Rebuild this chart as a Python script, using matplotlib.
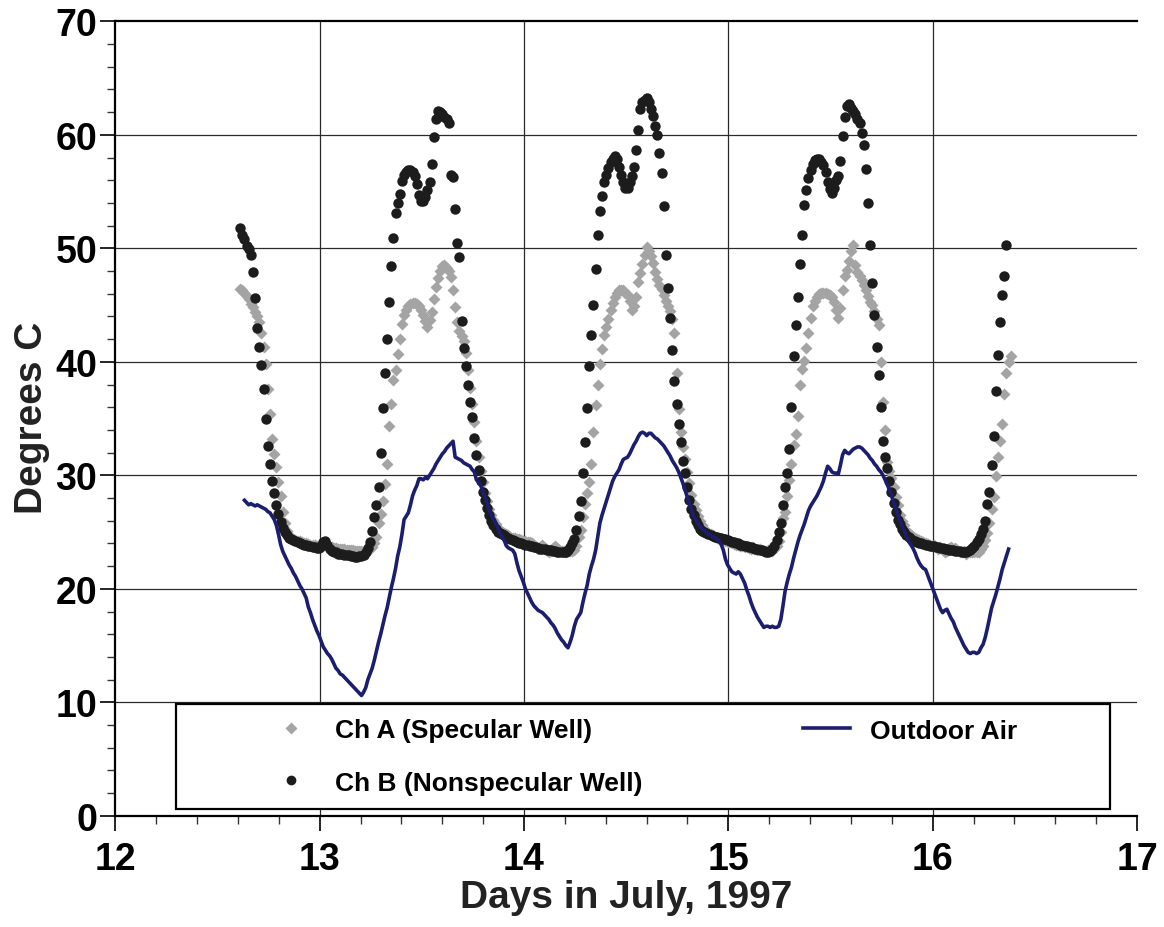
import numpy as np
import matplotlib
matplotlib.use("Agg")
import matplotlib.pyplot as plt
from matplotlib.lines import Line2D
from matplotlib.patches import Rectangle
from matplotlib.ticker import MultipleLocator

plt.rcParams['font.family'] = ['Liberation Sans', 'DejaVu Sans']
plt.rcParams['font.weight'] = 'bold'

# ---------------- data (15-minute samples) ----------------
STEP = 1.0 / 96.0
CHB_START = 12.611
CHA_START = 12.611
AIR_START = 12.632

ch_b = [
    51.8, 51.2, 50.8, 50.2, 49.9, 49.4, 47.9, 45.6, 43.0, 41.3,
    39.7, 37.6, 35.0, 32.6, 31.0, 29.5, 28.4, 27.4, 26.6, 25.9,
    25.4, 25.0, 24.7, 24.5, 24.4, 24.3, 24.2, 24.1, 24.0, 23.95,
    23.9, 23.85, 23.8, 23.75, 23.7, 23.65, 23.6, 23.6, 23.8, 24.1,
    24.2, 23.9, 23.5, 23.3, 23.2, 23.2, 23.1, 23.1, 23.05, 23.0,
    23.0, 22.95, 22.9, 22.85, 22.8, 22.8, 22.85, 22.9, 23.0, 23.2,
    23.6, 24.1, 25.1, 26.3, 27.4, 29.0, 32.0, 35.9, 39.0, 42.0,
    45.3, 48.4, 50.9, 53.1, 54.0, 54.8, 55.9, 56.5, 56.7, 56.9,
    56.9, 56.7, 56.4, 55.7, 54.7, 54.2, 54.2, 54.5, 55.1, 55.8,
    57.4, 59.8, 61.4, 62.1, 62.0, 61.8, 61.6, 61.4, 61.0, 56.5,
    56.3, 53.5, 50.5, 49.2, 43.6, 41.2, 39.6, 38.0, 36.5, 35.1,
    33.3, 31.8, 30.5, 29.5, 28.5, 27.8, 27.1, 26.5, 26.0, 25.6,
    25.3, 25.0, 24.9, 24.8, 24.7, 24.6, 24.5, 24.4, 24.3, 24.2,
    24.1, 24.05, 24.0, 23.95, 23.9, 23.85, 23.8, 23.75, 23.7, 23.65,
    23.6, 23.55, 23.5, 23.5, 23.45, 23.4, 23.4, 23.35, 23.3, 23.25,
    23.2, 23.2, 23.2, 23.25, 23.4, 23.7, 24.0, 24.4, 25.2, 26.4,
    27.7, 30.2, 32.9, 35.9, 39.6, 42.4, 45.0, 48.2, 51.2, 53.3,
    54.6, 55.8, 56.5, 57.1, 57.6, 57.9, 58.1, 57.9, 57.2, 56.5,
    55.8, 55.3, 55.3, 55.8, 56.4, 57.2, 58.7, 60.4, 62.3, 62.9,
    63.1, 63.2, 62.9, 62.3, 61.7, 60.8, 60.0, 58.4, 56.6, 53.7,
    49.4, 46.5, 43.9, 41.0, 38.3, 36.3, 34.5, 32.9, 31.3, 30.2,
    29.0, 27.8, 27.0, 26.5, 26.0, 25.6, 25.3, 25.1, 25.0, 24.9,
    24.8, 24.7, 24.65, 24.6, 24.55, 24.5, 24.45, 24.4, 24.35, 24.3,
    24.2, 24.15, 24.1, 24.05, 24.0, 23.9, 23.85, 23.8, 23.75, 23.7,
    23.65, 23.6, 23.55, 23.5, 23.45, 23.4, 23.3, 23.25, 23.2, 23.35,
    23.5, 23.8, 24.3, 25.0, 25.8, 27.4, 29.0, 30.2, 32.3, 36.0,
    40.5, 43.2, 45.7, 48.6, 51.2, 53.8, 55.1, 56.2, 56.9, 57.4,
    57.8, 57.9, 57.9, 57.6, 57.3, 56.7, 55.8, 55.2, 54.9, 55.3,
    56.0, 56.4, 57.7, 59.9, 61.6, 62.5, 62.7, 62.4, 62.1, 61.8,
    61.4, 61.0, 60.2, 59.1, 57.0, 54.0, 50.3, 46.9, 44.1, 41.3,
    38.8, 36.0, 33.0, 31.6, 30.6, 29.5, 28.5, 27.6, 26.8, 26.1,
    25.7, 25.3, 25.0, 24.7, 24.55, 24.4, 24.25, 24.2, 24.1, 24.05,
    24.0, 23.95, 23.9, 23.85, 23.8, 23.8, 23.75, 23.7, 23.65, 23.6,
    23.6, 23.55, 23.5, 23.45, 23.4, 23.4, 23.35, 23.3, 23.3, 23.25,
    23.2, 23.2, 23.3, 23.4, 23.6, 23.8, 24.1, 24.4, 24.8, 25.3,
    26.0, 27.5, 28.5, 30.9, 33.5, 37.4, 40.6, 43.5, 45.9, 47.6, 50.3,
]

ch_a = [
    46.4, 46.3, 46.1, 45.8, 45.5, 45.1, 44.8, 44.4, 44.0, 43.5,
    42.5, 41.3, 39.8, 37.6, 35.4, 33.2, 31.9, 30.7, 29.4, 28.2,
    26.8, 25.8, 25.1, 24.7, 24.5, 24.4, 24.3, 24.25, 24.2, 24.1,
    24.05, 24.0, 23.95, 23.9, 23.9, 23.85, 23.8, 23.8, 23.75, 23.8,
    23.9, 23.8, 23.7, 23.65, 23.6, 23.6, 23.55, 23.5, 23.5, 23.5,
    23.45, 23.45, 23.4, 23.4, 23.35, 23.35, 23.3, 23.3, 23.3, 23.35,
    23.4, 23.5, 23.7, 24.0, 24.6, 25.8, 26.6, 27.7, 29.2, 31.0,
    34.3, 36.3, 38.4, 39.3, 40.7, 42.0, 43.3, 44.1, 44.6, 44.9,
    45.1, 45.2, 45.2, 45.1, 44.9, 44.6, 44.1, 43.6, 43.1, 43.7,
    44.4, 45.5, 46.6, 47.4, 48.0, 48.4, 48.5, 48.3, 48.0, 47.5,
    46.3, 44.8, 43.5, 42.7, 42.3, 41.8, 40.8, 39.3, 37.7, 36.3,
    34.7, 33.0, 31.6, 30.4, 29.4, 28.4, 27.7, 27.0, 26.5, 26.1,
    25.7, 25.4, 25.2, 25.0, 24.9, 24.8, 24.7, 24.6, 24.5, 24.45,
    24.4, 24.35, 24.3, 24.25, 24.2, 24.15, 24.1, 24.0, 23.9, 23.7,
    23.5, 23.7, 23.9, 23.6, 23.4, 23.2, 23.3, 23.6, 23.8, 23.6,
    23.4, 23.3, 23.3, 23.2, 23.3, 23.3, 23.3, 23.4, 23.8, 24.6,
    25.2, 26.3, 27.5, 28.4, 29.4, 31.0, 33.8, 36.2, 38.0, 39.8,
    41.1, 42.4, 43.1, 43.8, 44.6, 45.2, 45.7, 46.1, 46.3, 46.3,
    46.3, 46.1, 45.9, 45.4, 44.6, 44.9, 45.7, 47.0, 47.8, 48.6,
    49.4, 50.1, 49.8, 49.3, 48.7, 47.9, 47.3, 46.8, 46.4, 45.9,
    45.4, 44.9, 44.5, 43.8, 42.5, 39.0, 35.8, 33.8, 32.5, 31.4,
    30.3, 29.3, 28.3, 27.5, 26.9, 26.4, 26.0, 25.6, 25.3, 25.1,
    24.9, 24.8, 24.7, 24.6, 24.5, 24.4, 24.35, 24.3, 24.2, 24.15,
    24.1, 24.0, 23.95, 23.9, 23.85, 23.8, 23.75, 23.7, 23.65, 23.6,
    23.55, 23.7, 23.5, 23.4, 23.5, 23.4, 23.3, 23.3, 23.4, 23.3,
    23.3, 23.5, 23.8, 24.2, 25.0, 26.2, 26.8, 28.2, 29.6, 31.0,
    32.7, 33.6, 35.2, 38.0, 39.4, 40.1, 41.2, 42.5, 43.9, 44.9,
    45.4, 45.7, 46.0, 46.1, 46.1, 46.1, 46.0, 45.9, 45.7, 45.3,
    44.6, 43.9, 44.7, 46.3, 47.6, 48.1, 48.9, 49.8, 50.3, 48.5,
    47.9, 47.6, 47.2, 46.8, 46.3, 45.8, 45.3, 45.0, 44.5, 43.8,
    43.2, 40.0, 36.5, 34.0, 31.2, 30.4, 29.8, 29.0, 28.1, 27.4,
    26.5, 26.0, 25.6, 25.1, 24.9, 24.7, 24.6, 24.5, 24.4, 24.3,
    24.2, 24.1, 24.0, 23.95, 23.9, 23.8, 23.9, 23.7, 23.5, 23.7,
    23.4, 23.2, 23.3, 23.6, 23.7, 23.5, 23.6, 23.4, 23.2, 23.2,
    23.3, 23.1, 23.2, 23.2, 23.2, 23.2, 23.2, 23.2, 23.5, 23.8,
    24.3, 24.9, 25.8, 27.0, 28.1, 29.9, 31.6, 33.0, 34.5, 37.2,
    39.0, 40.0, 40.5,
]

outdoor_air = [
    27.8, 27.6, 27.4, 27.5, 27.4, 27.3, 27.4, 27.3, 27.2, 27.1,
    27.0, 26.8, 26.7, 26.4, 26.1, 25.6, 24.8, 23.9, 23.3, 22.9,
    22.5, 22.1, 21.8, 21.4, 21.1, 20.7, 20.3, 20.0, 19.6, 19.2,
    18.4, 17.9, 17.3, 16.8, 16.3, 15.9, 15.4, 14.9, 14.6, 14.3,
    14.1, 13.8, 13.4, 13.0, 12.8, 12.5, 12.4, 12.2, 12.0, 11.8,
    11.6, 11.4, 11.2, 11.0, 10.8, 10.6, 10.9, 11.3, 12.0, 12.5,
    13.0, 13.7, 14.5, 15.3, 16.0, 16.8, 17.6, 18.3, 19.2, 20.1,
    20.9, 21.8, 22.9, 23.7, 24.8, 26.1, 26.4, 26.7, 27.4, 28.2,
    28.7, 29.1, 29.7, 29.7, 29.6, 29.8, 29.7, 30.0, 30.3, 30.6,
    31.0, 31.3, 31.6, 31.9, 32.1, 32.4, 32.6, 32.8, 33.0, 31.6,
    31.5, 31.4, 31.3, 31.1, 31.0, 30.9, 30.8, 30.5, 30.3, 29.6,
    29.4, 29.1, 28.6, 28.1, 27.5, 26.9, 26.5, 26.1, 25.8, 25.4,
    24.9, 24.6, 24.3, 23.8, 23.6, 23.5, 23.4, 23.1, 22.3, 21.6,
    21.1, 20.6, 20.0, 19.6, 19.2, 18.8, 18.5, 18.3, 18.1, 18.0,
    17.9, 17.7, 17.5, 17.3, 17.0, 16.8, 16.5, 16.1, 15.8, 15.5,
    15.3, 15.0, 14.8, 15.3, 15.9, 16.7, 17.3, 17.6, 17.9, 18.8,
    19.6, 20.3, 21.3, 22.0, 22.6, 23.4, 24.6, 25.8, 26.5, 27.1,
    27.7, 28.3, 28.9, 29.5, 29.9, 30.2, 30.5, 31.0, 31.4, 31.5,
    31.6, 31.9, 32.3, 32.7, 33.0, 33.4, 33.7, 33.8, 33.7, 33.5,
    33.7, 33.7, 33.5, 33.3, 33.2, 33.0, 32.8, 32.6, 32.3, 32.0,
    31.7, 31.3, 31.0, 30.7, 30.3, 29.8, 29.3, 28.7, 28.1, 27.5,
    27.0, 26.4, 26.1, 25.8, 25.5, 25.3, 25.1, 25.0, 24.8, 24.7,
    24.6, 24.5, 24.4, 24.2, 23.9, 23.4, 22.6, 22.1, 21.8, 21.5,
    21.4, 21.3, 21.5, 21.3, 20.9, 20.5, 19.9, 19.4, 18.8, 18.3,
    17.9, 17.5, 17.2, 16.9, 16.6, 16.7, 16.7, 16.6, 16.7, 16.6,
    16.6, 16.7, 17.3, 18.5, 19.8, 20.6, 21.3, 21.9, 22.7, 23.4,
    24.1, 24.7, 25.2, 25.7, 26.3, 26.9, 27.3, 27.6, 27.9, 28.2,
    28.6, 29.0, 29.5, 30.2, 30.8, 30.6, 30.3, 30.2, 30.2, 30.1,
    30.9, 31.8, 32.2, 32.0, 31.9, 32.1, 32.3, 32.4, 32.5, 32.5,
    32.4, 32.2, 32.0, 31.8, 31.5, 31.3, 31.0, 30.8, 30.5, 30.3,
    30.0, 29.6, 29.2, 28.7, 28.2, 27.6, 27.1, 26.5, 26.0, 25.5,
    25.1, 24.6, 24.2, 23.9, 23.6, 23.2, 22.7, 22.3, 22.0, 21.8,
    21.7, 21.2, 20.7, 20.2, 19.7, 19.2, 18.7, 18.2, 17.9, 18.1,
    18.2, 17.8, 17.4, 17.1, 16.6, 16.2, 15.8, 15.4, 15.0, 14.7,
    14.4, 14.3, 14.4, 14.4, 14.3, 14.4, 14.8, 15.1, 15.7, 16.5,
    17.4, 18.3, 18.9, 19.5, 20.2, 20.9, 21.7, 22.3, 22.9, 23.5,
]

x_ticks = [12, 13, 14, 15, 16, 17]
y_ticks = [0, 10, 20, 30, 40, 50, 60, 70]
labels = ["Ch A (Specular Well)", "Ch B (Nonspecular Well)", "Outdoor Air"]

# ---------------- figure ----------------
W, H = 1164, 928
fig = plt.figure(figsize=(W / 100, H / 100), dpi=100)
L, R, T, B = 115.3, 1137.0, 22.3, 816.8
ax = fig.add_axes([L / W, 1 - B / H, (R - L) / W, (B - T) / H])

GRAY = '#a4a4a4'
BLACK = '#1c1c1c'
NAVY = '#1b1e6f'
GRID = '#2a2a2a'

t_a = CHA_START + STEP * np.arange(len(ch_a))
t_b = CHB_START + STEP * np.arange(len(ch_b))
t_air = AIR_START + STEP * np.arange(len(outdoor_air))

ax.plot(t_a, ch_a, ls='none', marker='D', ms=6.4, color=GRAY, mec='none', zorder=3)
ax.plot(t_b, ch_b, ls='none', marker='o', ms=7.5, color=BLACK, mec='none', zorder=4)
ax.plot(t_air, outdoor_air, color=NAVY, lw=2.6, zorder=5)

ax.set_xlim(12, 17)
ax.set_ylim(0, 70)
ax.set_xticks(x_ticks)
ax.set_yticks(y_ticks)
ax.xaxis.set_minor_locator(MultipleLocator(0.2))
ax.yaxis.set_minor_locator(MultipleLocator(2))

# grid: inner major lines only (no line at the right end x = 17)
for xv in x_ticks[1:-1]:
    ax.axvline(xv, color=GRID, lw=0.9, zorder=1)
for yv in y_ticks[1:-1]:
    ax.axhline(yv, color=GRID, lw=0.9, zorder=1)

for s in ['left', 'bottom', 'top']:
    ax.spines[s].set_linewidth(1.6)
    ax.spines[s].set_color('black')
ax.spines['right'].set_visible(False)

ax.tick_params(axis='both', which='major', direction='out', length=11, width=1.2,
               labelsize=27, color='black')
ax.tick_params(axis='both', which='minor', direction='out', length=5.5, width=1.0,
               color='#333333')
ax.tick_params(axis='y', which='major', pad=2)
ax.tick_params(axis='x', which='major', pad=7)
for lab in ax.get_xticklabels() + ax.get_yticklabels():
    lab.set_fontweight('bold')

ax.set_xlabel("Days in July, 1997", fontsize=28, fontweight='bold', color='#222222')
ax.xaxis.set_label_coords(0.5, -0.079)
ax.set_ylabel("Degrees C", fontsize=28, fontweight='bold', color='#222222')
ax.yaxis.set_label_coords(-0.064, 0.502)

# ---------------- legend ----------------
rect = Rectangle((176 / W, 1 - 810 / H), (1110 - 176) / W, (810 - 705) / H,
                 transform=fig.transFigure, facecolor='white', edgecolor='black',
                 lw=1.6, zorder=4)
fig.add_artist(rect)

h_a = Line2D([], [], ls='none', marker='D', ms=6.4, color=GRAY, mec='none')
h_b = Line2D([], [], ls='none', marker='o', ms=7.0, color=BLACK, mec='none')
h_air = Line2D([], [], color=NAVY, lw=2.6)

FS = 19
em = FS * 100 / 72.0
leg1 = fig.legend([h_a, h_b], labels[:2], loc='center left',
                  bbox_to_anchor=(267 / W, 1 - 757.4 / H), bbox_transform=fig.transFigure,
                  frameon=False, borderpad=0, borderaxespad=0,
                  handlelength=47 / em, handletextpad=21 / em, labelspacing=1.08,
                  prop={'size': FS, 'weight': 'bold'})
leg1.set_zorder(6)
leg2 = fig.legend([h_air], labels[2:], loc='center left',
                  bbox_to_anchor=(803 / W, 1 - 731.7 / H), bbox_transform=fig.transFigure,
                  frameon=False, borderpad=0, borderaxespad=0,
                  handlelength=47 / em, handletextpad=20 / em,
                  prop={'size': FS, 'weight': 'bold'})
leg2.set_zorder(6)

fig.savefig("out.png", dpi=100)
